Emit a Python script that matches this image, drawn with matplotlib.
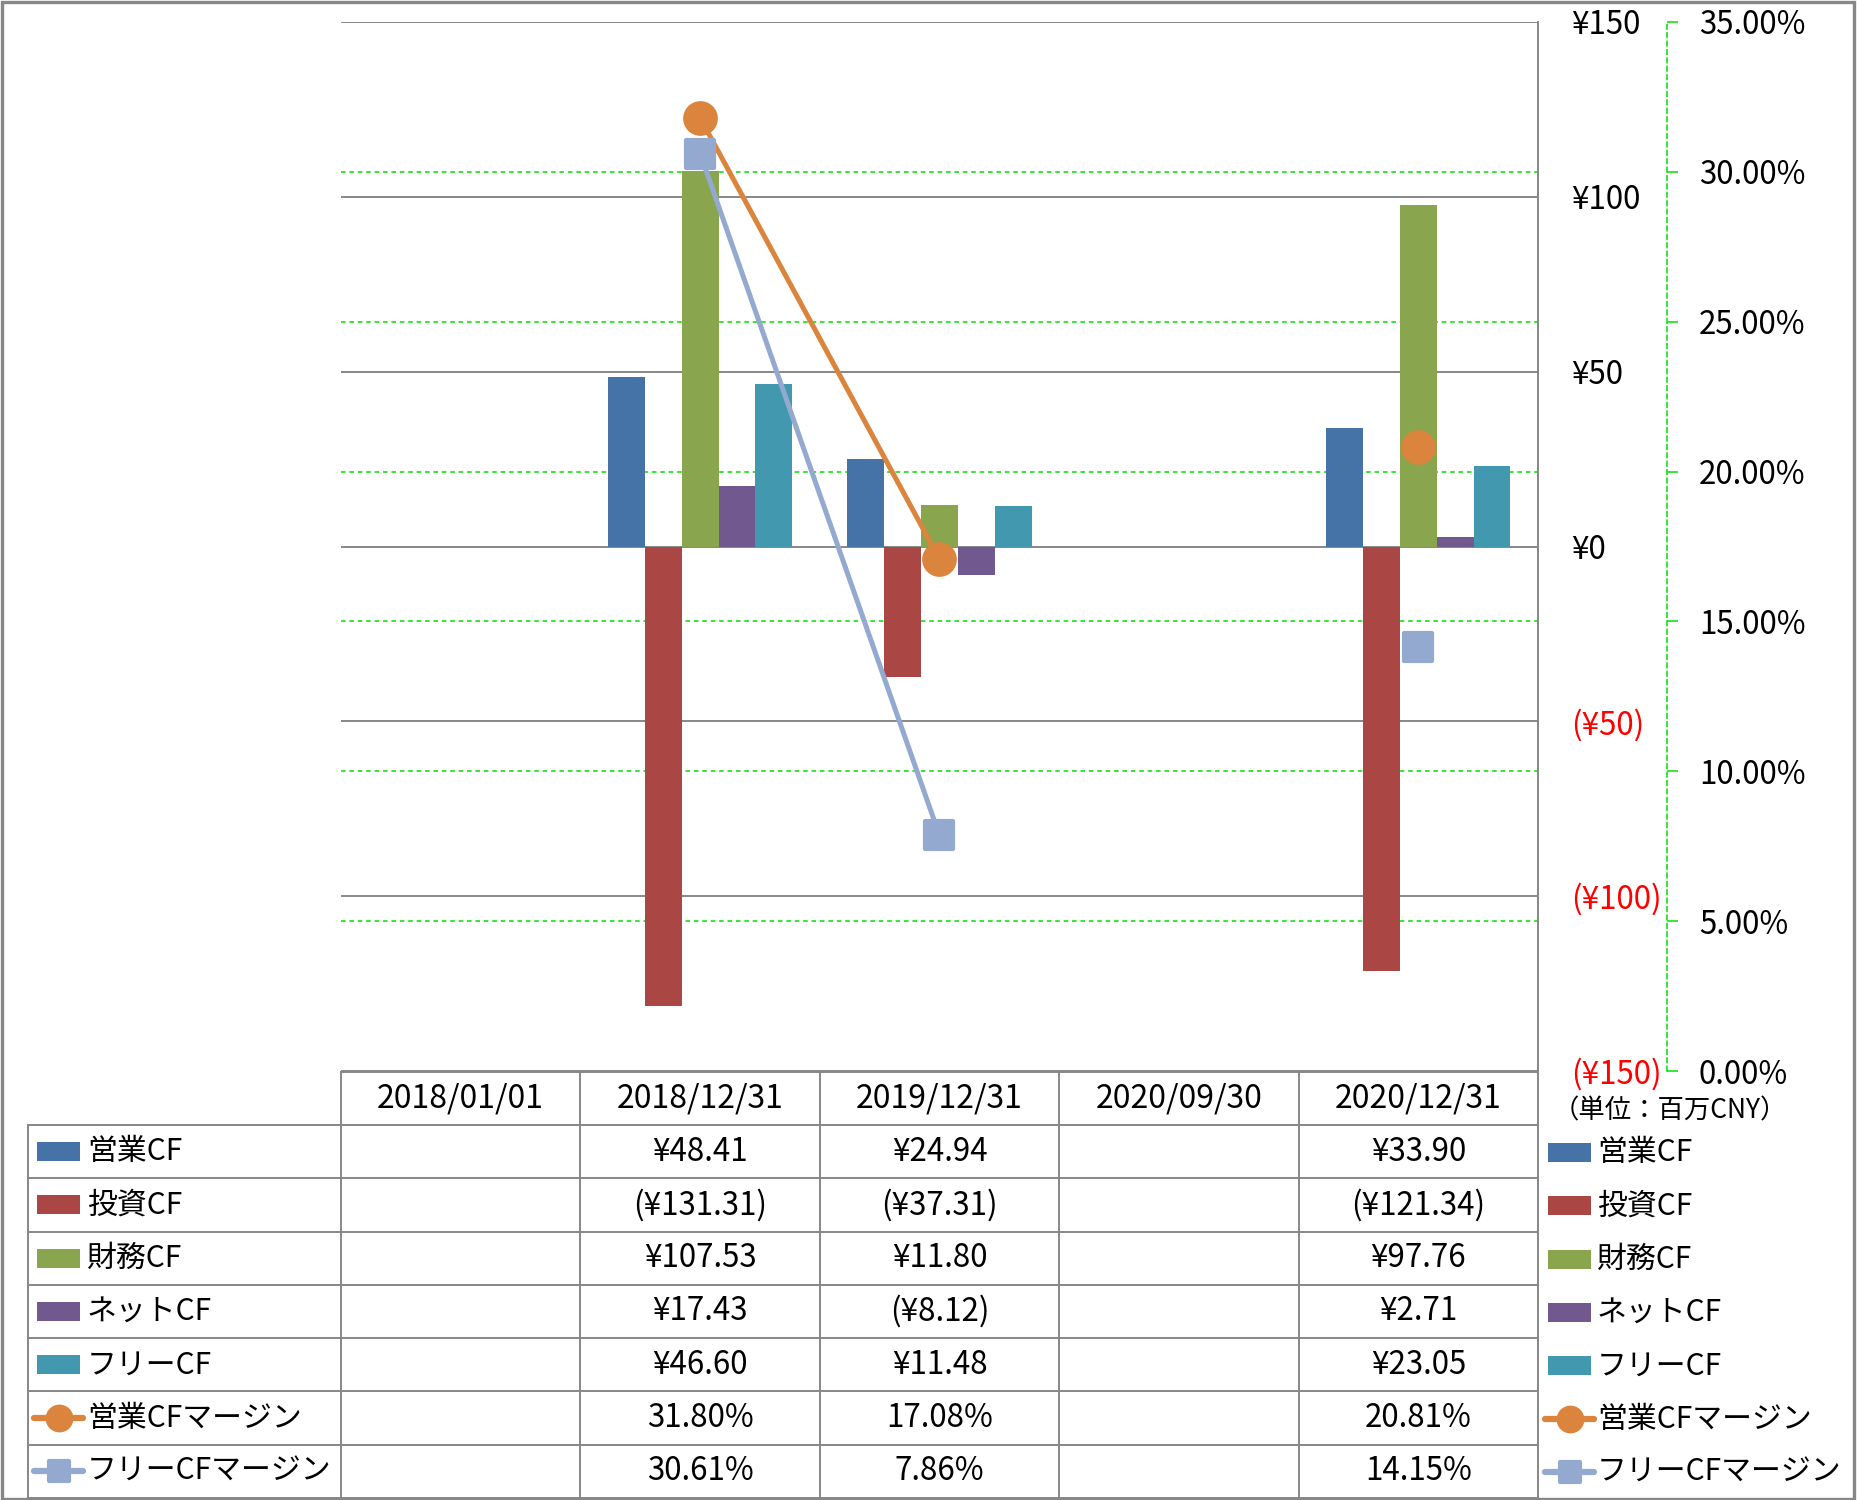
import matplotlib
matplotlib.use('Agg')
import matplotlib.pyplot as plt
import numpy as np
from matplotlib.markers import MarkerStyle
from matplotlib.lines import Line2D
from matplotlib.patches import Rectangle

plt.rcParams['font.family'] = ['Noto Sans CJK JP', 'DejaVu Sans']

# ---------------- data ----------------
categories = ['2018/01/01', '2018/12/31', '2019/12/31', '2020/09/30', '2020/12/31']
bar_names = ['営業CF', '投資CF', '財務CF', 'ネットCF', 'フリーCF']
op_cf = [np.nan, 48.41, 24.94, np.nan, 33.90]
inv_cf = [np.nan, -131.31, -37.31, np.nan, -121.34]
fin_cf = [np.nan, 107.53, 11.80, np.nan, 97.76]
net_cf = [np.nan, 17.43, -8.12, np.nan, 2.71]
free_cf = [np.nan, 46.60, 11.48, np.nan, 23.05]
line_names = ['営業CFマージン', 'フリーCFマージン']
op_margin = [np.nan, 31.80, 17.08, np.nan, 20.81]
free_margin = [np.nan, 30.61, 7.86, np.nan, 14.15]
yen_ticks = [-150, -100, -50, 0, 50, 100, 150]
pct_ticks = [0, 5, 10, 15, 20, 25, 30, 35]
unit_label = '（単位：百万CNY）'

bar_series = [op_cf, inv_cf, fin_cf, net_cf, free_cf]
line_series = [op_margin, free_margin]

# ---------------- style ----------------
bar_colors = ['#4572A7', '#AA4643', '#89A54E', '#71588F', '#4198AF']
line_colors = ['#DB843D', '#93A9CF']
grid_gray = '#878787'
green = '#00E000'
FS = 22.5
FS_LBL = 21.5
FS_TICK = 22.5

W, H = 1857, 1500
fig = plt.figure(figsize=(W / 100, H / 100), dpi=100)

PL, PR, PT, PB = 341, 1538, 22, 1071
ax = fig.add_axes([PL / W, 1 - PB / H, (PR - PL) / W, (PB - PT) / H])
ax2 = ax.twinx()

x = np.arange(len(categories))
ax.set_xlim(-0.5, len(categories) - 0.5)
ax.set_ylim(-150, 150)
ax2.set_ylim(0, 35)

for s in ax.spines.values():
    s.set_visible(False)
for k, s in ax2.spines.items():
    s.set_visible(k == 'right')
ax.set_xticks([])
ax2.set_xticks([])

# primary axis (yen) on the right
ax.yaxis.tick_right()
ax.set_yticks(yen_ticks)
def yen_fmt(v):
    return f'¥{v:,.0f}' if v >= 0 else f'(¥{abs(v):,.0f})'
ax.set_yticklabels([yen_fmt(v) for v in yen_ticks])
for lbl, v in zip(ax.get_yticklabels(), yen_ticks):
    lbl.set_color('red' if v < 0 else 'black')
ax.tick_params(axis='y', length=0, pad=33 * 0.72, labelsize=FS_TICK)
ax.yaxis.grid(True, color=grid_gray, lw=1.4)
ax.set_axisbelow(True)

# green dashed secondary gridlines (behind bars)
for p in pct_ticks[1:-1]:
    ln = Line2D([0, 1], [p, p], transform=ax2.get_yaxis_transform(),
                color=green, lw=1.1, linestyle=(0, (3, 2.5)), zorder=0.6)
    ax.add_line(ln)

# bars
n = len(bar_series)
w = 1 / (n + 1.5)
for i, (vals, col) in enumerate(zip(bar_series, bar_colors)):
    vals = np.array(vals, dtype=float)
    m = np.isfinite(vals)
    ax.bar(x[m] + (i - (n - 1) / 2) * w, vals[m], w, color=col, zorder=2,
           linewidth=0)
ax.set_ylim(-150, 150)

# secondary axis (percent)
ax2.spines['right'].set_position(('axes', (1667 - PL) / (PR - PL)))
ax2.spines['right'].set_color(green)
ax2.spines['right'].set_linewidth(1.1)
ax2.spines['right'].set_linestyle((0, (3, 2.5)))
ax2.set_yticks(pct_ticks)
ax2.set_yticklabels([f'{p:.2f}%' for p in pct_ticks])
ax2.tick_params(axis='y', direction='out', length=8, width=1.1, color=green,
                pad=15, labelsize=FS_TICK)

markers = [MarkerStyle('o'), MarkerStyle('s', joinstyle='round')]
msizes = [22, 20]
for vals, col, mk, ms in zip(line_series, line_colors, markers, msizes):
    ax2.plot(x, vals, color=col, lw=3.6, marker=mk, ms=ms, mec=col, mew=3,
             zorder=3, solid_capstyle='round')
ax2.set_ylim(0, 35)

# ---------------- overlay: table, legend, border ----------------
axo = fig.add_axes([0, 0, 1, 1])
axo.set_xlim(0, W)
axo.set_ylim(H, 0)
axo.axis('off')

col_edges = [PL + (PR - PL) * k / len(categories) for k in range(len(categories) + 1)]
hdr_top, hdr_bot, tbl_bot = 1072, 1125, 1498
tbl_left = 28
nrows = len(bar_names) + len(line_names)
row_h = (tbl_bot - hdr_bot) / nrows
lw_t = 1.4

axo.plot([PL, PR], [hdr_top, hdr_top], color=grid_gray, lw=lw_t)
for k in range(nrows + 1):
    yy = hdr_bot + k * row_h
    axo.plot([tbl_left, PR], [yy, yy], color=grid_gray, lw=lw_t)
axo.plot([tbl_left, tbl_left], [hdr_bot, tbl_bot], color=grid_gray, lw=lw_t)
for xe in col_edges[:-1]:
    axo.plot([xe, xe], [hdr_top, tbl_bot], color=grid_gray, lw=lw_t)
axo.plot([PR, PR], [PT, tbl_bot], color=grid_gray, lw=lw_t)

for c, cat in enumerate(categories):
    xc = (col_edges[c] + col_edges[c + 1]) / 2
    axo.text(xc, (hdr_top + hdr_bot) / 2, cat, ha='center', va='center', fontsize=23)

def fmt_yen(v):
    if not np.isfinite(v):
        return ''
    return f'¥{v:,.2f}' if v >= 0 else f'(¥{abs(v):,.2f})'

def fmt_pct(v):
    return '' if not np.isfinite(v) else f'{v:.2f}%'

def draw_key(xk0, xk1, yc, kind, col, mk=None, ms=None):
    if kind == 'bar':
        axo.add_patch(Rectangle((xk0, yc - 9.5), xk1 - xk0, 19, color=col, lw=0))
    else:
        axo.plot([xk0 - 3, xk1 + 3], [yc, yc], color=col, lw=4.5, solid_capstyle='round')
        axo.plot([(xk0 + xk1) / 2], [yc], marker=mk, ms=ms, color=col, mec=col, mew=3)

rows = []
for name, vals, col in zip(bar_names, bar_series, bar_colors):
    rows.append(('bar', name, [fmt_yen(v) for v in vals], col, None, None))
for name, vals, col, mk, ms in zip(line_names, line_series, line_colors, markers, [17, 15]):
    rows.append(('line', name, [fmt_pct(v) for v in vals], col, mk, ms))

for r, (kind, name, texts, col, mk, ms) in enumerate(rows):
    yc = hdr_bot + (r + 0.5) * row_h
    draw_key(37, 80, yc, kind, col, mk, ms)
    axo.text(87, yc, name, ha='left', va='center', fontsize=FS_LBL)
    for c, t in enumerate(texts):
        xc = (col_edges[c] + col_edges[c + 1]) / 2
        axo.text(xc, yc, t, ha='center', va='center', fontsize=FS)
    # right legend
    draw_key(1548, 1591, yc + 1, kind, col, mk, ms)
    axo.text(1597, yc + 1, name, ha='left', va='center', fontsize=FS_LBL)

axo.text(1670, 1111, unit_label, ha='center', va='center', fontsize=19)

axo.add_patch(Rectangle((1.5, 1.5), W - 4.5, H - 3, fill=False,
                        edgecolor=grid_gray, lw=2.4))

fig.savefig('out.png', dpi=100)
